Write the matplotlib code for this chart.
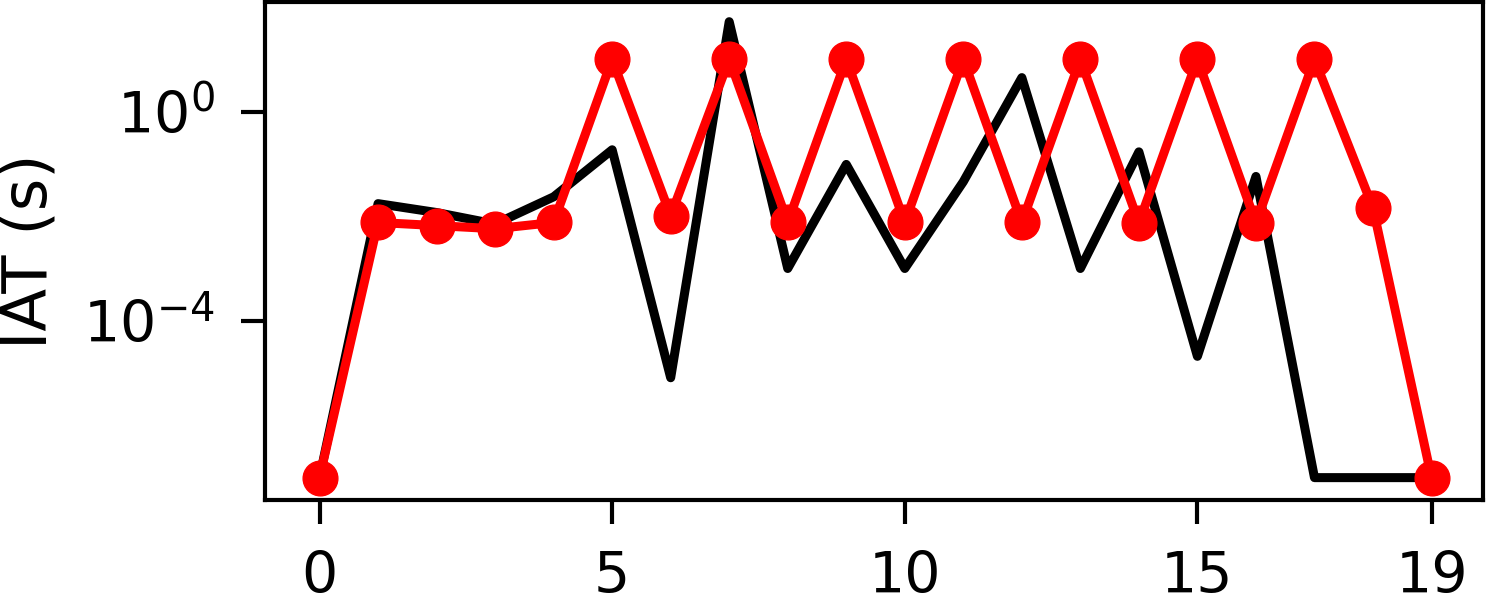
import numpy as np
import matplotlib
matplotlib.use("Agg")
import matplotlib.pyplot as plt

x = list(range(20))
# log10 of IAT values (s)
black_log = [-7.0, -1.76, -1.93, -2.15, -1.63, -0.73, -5.09, 1.72, -3.0, -1.01,
             -3.0, -1.34, 0.65, -3.0, -0.77, -4.68, -1.24, -7.0, -7.0, -7.0]
red_log = [-7.0, -2.12, -2.18, -2.24, -2.12, 1.0, -1.99, 1.0, -2.12, 1.0,
           -2.12, 1.0, -2.12, 1.0, -2.13, 1.0, -2.13, 1.0, -1.84, -7.0]
black_vals = [10 ** v for v in black_log]
red_vals = [10 ** v for v in red_log]
xticks = [0, 5, 10, 15, 19]
yticks = [1e-4, 1e0]

fig = plt.figure(figsize=(14.86, 6.04), dpi=100)
ax = fig.add_axes([0.178, 0.172, 0.820, 0.825])
ax.plot(x, black_vals, color="black", lw=6.5, solid_joinstyle="round", solid_capstyle="round")
ax.plot(x, red_vals, color="red", lw=6.5, marker="o", markersize=25)
ax.set_yscale("log")
ax.set_ylim(10 ** -7.43, 10 ** 2.1)
ax.set_xlim(-0.94, 19.88)
ax.set_xticks(xticks)
ax.set_yticks(yticks)
ax.yaxis.set_minor_locator(matplotlib.ticker.NullLocator())
ax.tick_params(axis="both", labelsize=41, length=17, width=3, pad=19)
ax.set_ylabel("IAT (s)", fontsize=45)
ax.yaxis.set_label_coords(-0.168, 0.5)
for s in ax.spines.values():
    s.set_linewidth(3)
fig.savefig("out.png", dpi=100)
